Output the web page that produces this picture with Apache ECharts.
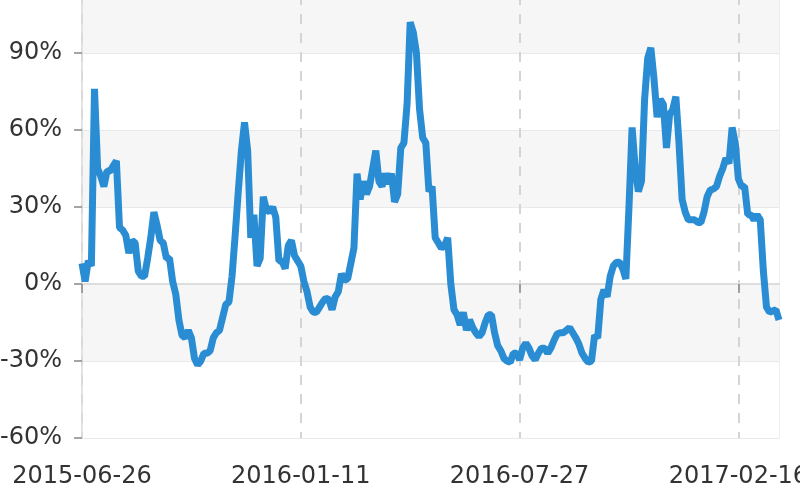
<!DOCTYPE html>
<html>
<head>
<meta charset="utf-8">
<script src="https://cdn.jsdelivr.net/npm/echarts@6/dist/echarts.min.js"></script>
<style>
html,body{margin:0;padding:0;background:#fff;}
#chart{width:800px;height:500px;}
</style>
</head>
<body>
<div id="chart"></div>
<script>
// Dates shown as axis labels (every 70th category)
const labelDates = ['2015-06-26', '2016-01-11', '2016-07-27', '2017-02-16'];
const yTicks = [-60, -30, 0, 30, 60, 90, 120];

// Series values (%)
const values1 = [8, 1, 9, 7, 76, 45, 42, 38, 44, 44, 46, 48, 22, 21, 19, 12, 17, 16, 5, 3, 3, 10, 18, 28, 23, 17, 16, 10, 10, 1, -4, -14, -20, -21, -18, -21, -29, -31.5, -30, -27, -27, -26, -21, -19, -18];
const values2 = [-13, -8, -7, 3, 19, 36, 52, 63, 52, 18, 27, 7, 10, 34, 29, 28, 30, 26, 9, 9, 6, 15, 17, 11, 9, 7, 1, -3, -9, -11, -11, -9, -7, -5.5, -6, -10, -5, -3, 4, 1.5, 2, 8, 14, 43];
const values3 = [33, 40, 35, 38, 45, 52, 40, 38, 43, 39, 43, 32, 35, 53, 55, 70, 102, 98, 90, 68, 57, 55, 36, 38, 18, 16, 14, 15, 18, 0, -10, -12, -16, -11, -18, -14, -17, -19, -20.5, -19, -15, -12, -12, -19, -24];
const values4 = [-26, -29, -30, -30.5, -27, -27, -29.5, -25, -23, -25, -28, -29.5, -27, -25, -25, -27, -25, -22, -19.5, -19, -19, -18, -17, -19, -21, -23.5, -27, -29, -30.5, -30, -20, -21, -6, -2.3, -5, 3, 7, 8.5, 8.5, 6, 2, 30, 61, 45];
const values5 = [36, 40, 72, 88, 92, 80, 65, 72, 70, 53, 66, 68, 73, 55, 33, 28, 25, 25, 25, 24, 24, 28, 34, 36.6, 37, 38, 42, 45, 49, 47, 61, 55, 41, 38, 38, 27, 27, 25, 27, 25, 5, -9, -11, -10.5, -10, -14];

const values = values1.concat(values2, values3, values4, values5);
const STEP = 70; // categories between labelled dates

// Category dates spread between the labelled dates
function pad(n){return n < 10 ? '0' + n : '' + n;}
function fmt(d){return d.getUTCFullYear() + '-' + pad(d.getUTCMonth() + 1) + '-' + pad(d.getUTCDate());}
const anchors = labelDates.map(s => Date.parse(s + 'T00:00:00Z'));
const categories = values.map((v, k) => {
  const seg = Math.min(Math.floor(k / STEP), anchors.length - 2);
  const perStep = (anchors[seg + 1] - anchors[seg]) / STEP;
  const t = anchors[seg] + Math.round((k - seg * STEP) * perStep / 86400000) * 86400000;
  return fmt(new Date(t));
});

const chart = echarts.init(document.getElementById('chart'), null, {renderer: 'canvas'});
const font = 'DejaVu Sans';
chart.setOption({
  animation: false,
  backgroundColor: '#ffffff',
  grid: {left: 82, right: 21, top: -24, bottom: 62, containLabel: false, outerBoundsMode: 'none',
         show: true, borderColor: '#dddddd', borderWidth: 1, backgroundColor: 'transparent'},
  xAxis: {
    type: 'category',
    boundaryGap: false,
    data: categories,
    axisLine: {show: true, lineStyle: {color: '#dddddd', width: 2}},
    axisTick: {show: true, interval: STEP - 1, length: 9, lineStyle: {color: '#888888', width: 1.5}},
    axisLabel: {interval: STEP - 1, fontSize: 24, fontFamily: font, color: '#333333', margin: 27, hideOverlap: false},
    splitLine: {show: true, interval: STEP - 1, lineStyle: {color: '#d4d4d4', width: 2, type: [10, 9]}}
  },
  yAxis: {
    type: 'value',
    min: yTicks[0],
    max: yTicks[yTicks.length - 1],
    interval: 30,
    axisLine: {show: true, lineStyle: {color: '#dddddd', width: 1.5}},
    axisTick: {show: true, length: 8, lineStyle: {color: '#888888', width: 1.5}},
    axisLabel: {formatter: '{value}%', fontSize: 24, fontFamily: font, color: '#333333', margin: 20},
    splitLine: {show: true, lineStyle: {color: '#e9e9e9', width: 1}},
    splitArea: {show: true, areaStyle: {color: ['#ffffff', '#f6f6f6']}}
  },
  series: [{
    type: 'line',
    data: values,
    showSymbol: false,
    symbol: 'none',
    lineStyle: {color: '#2a8dd4', width: 7},
    z: 5
  }]
});
</script>
</body>
</html>
